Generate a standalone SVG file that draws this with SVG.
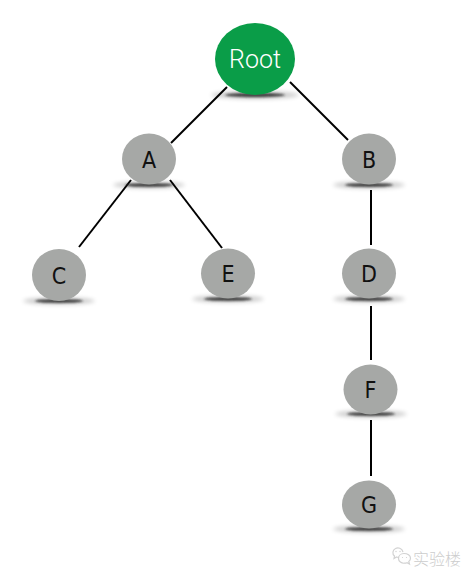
<svg xmlns="http://www.w3.org/2000/svg" width="474" height="579" viewBox="0 0 474 579">
  <defs>
    <filter id="blur" x="-50%" y="-200%" width="200%" height="500%">
      <feGaussianBlur stdDeviation="2.2"/>
    </filter>
    <filter id="blur2" x="-50%" y="-200%" width="200%" height="500%">
      <feGaussianBlur stdDeviation="1"/>
    </filter>
    <style>
      .edge { stroke: #000; stroke-width: 2; fill: none; }
      .node { fill: #a6a8a6; }
      .root { fill: #0a9d48; }
      .shadow-soft { fill: #000; opacity: 0.2; filter: url(#blur); }
      .shadow-dark { fill: #222; opacity: 0.8; filter: url(#blur2); }
      .label { font-family: "DejaVu Sans Condensed", "DejaVu Sans", sans-serif; font-stretch: condensed; font-size: 23px; fill: #111; text-anchor: middle; }
      .rootlabel { font-family: Roboto, "Liberation Sans", sans-serif; font-weight: 300; font-size: 25px; fill: #fff; text-anchor: middle; }
      .wm { font-family: "Noto Sans CJK SC", sans-serif; font-weight: 300; font-size: 16px; fill: #cdcdcd; }
      .wmicon { fill: none; stroke: #d2d2d2; stroke-width: 1.2; }
    </style>
  </defs>
  <rect width="474" height="579" fill="#fff"/>

  <g id="connectors">
    <line class="edge" x1="227" y1="87" x2="171" y2="143"/>
    <line class="edge" x1="290" y1="82" x2="348" y2="140"/>
    <line class="edge" x1="131" y1="180" x2="79" y2="247"/>
    <line class="edge" x1="170" y1="180" x2="222" y2="248"/>
    <line class="edge" x1="371" y1="190" x2="371" y2="245"/>
    <line class="edge" x1="371" y1="306" x2="371" y2="360"/>
    <line class="edge" x1="371" y1="420" x2="371" y2="476"/>
  </g>

  <g id="node-root">
    <ellipse class="shadow-soft" cx="255" cy="95" rx="44" ry="4"/>
    <ellipse class="shadow-dark" cx="255" cy="95" rx="30" ry="2.2"/>
    <ellipse class="root" cx="255" cy="59" rx="40" ry="36"/>
    <text class="rootlabel" x="255" y="68">Root</text>
  </g>

  <g id="node-a">
    <ellipse class="shadow-soft" cx="149" cy="185" rx="36" ry="3.5"/>
    <ellipse class="shadow-dark" cx="149" cy="185" rx="24" ry="2"/>
    <ellipse class="node" cx="149" cy="159" rx="27" ry="25.5"/>
    <text class="label" x="149" y="168">A</text>
  </g>

  <g id="node-b">
    <ellipse class="shadow-soft" cx="369" cy="185" rx="36" ry="3.5"/>
    <ellipse class="shadow-dark" cx="369" cy="185" rx="24" ry="2"/>
    <ellipse class="node" cx="369" cy="159" rx="27" ry="25.5"/>
    <text class="label" x="369" y="168">B</text>
  </g>

  <g id="node-c">
    <ellipse class="shadow-soft" cx="59" cy="301" rx="36" ry="3.5"/>
    <ellipse class="shadow-dark" cx="59" cy="301" rx="24" ry="2"/>
    <ellipse class="node" cx="59" cy="275" rx="27" ry="26"/>
    <text class="label" x="59" y="284">C</text>
  </g>

  <g id="node-e">
    <ellipse class="shadow-soft" cx="228" cy="299" rx="36" ry="3.5"/>
    <ellipse class="shadow-dark" cx="228" cy="299" rx="24" ry="2"/>
    <ellipse class="node" cx="228" cy="273.5" rx="27" ry="25"/>
    <text class="label" x="228" y="282">E</text>
  </g>

  <g id="node-d">
    <ellipse class="shadow-soft" cx="369" cy="299" rx="36" ry="3.5"/>
    <ellipse class="shadow-dark" cx="369" cy="299" rx="24" ry="2"/>
    <ellipse class="node" cx="369" cy="273.5" rx="27" ry="25"/>
    <text class="label" x="369" y="282">D</text>
  </g>

  <g id="node-f">
    <ellipse class="shadow-soft" cx="371" cy="414" rx="36" ry="3.5"/>
    <ellipse class="shadow-dark" cx="371" cy="414" rx="24" ry="2"/>
    <ellipse class="node" cx="370.5" cy="389.5" rx="27" ry="25"/>
    <text class="label" x="370.5" y="398">F</text>
  </g>

  <g id="node-g">
    <ellipse class="shadow-soft" cx="369" cy="529" rx="36" ry="3.5"/>
    <ellipse class="shadow-dark" cx="369" cy="529" rx="24" ry="2"/>
    <ellipse class="node" cx="369" cy="504.5" rx="27" ry="24"/>
    <text class="label" x="369" y="513">G</text>
  </g>

  <g id="watermark">
    <path class="wmicon" d="M 403 552 C 402 548 398 547 395.5 548.5 C 392.5 550 392 554 394.5 556 L 394 558.5 L 396.5 557 C 397.5 557.3 398.5 557.3 399 557.2"/>
    <path class="wmicon" d="M 404 553.5 C 400.5 553.5 398.5 556 398.5 558.5 C 398.5 561.5 401.5 563.5 404.5 563.2 C 405.5 563.2 406.3 563 407 562.7 L 409.5 564 L 408.8 561.5 C 410 560.5 410.5 559.5 410.5 558.3 C 410.5 555.5 407.5 553.5 404 553.5 Z"/>
    <circle cx="396" cy="551.5" r="0.7" fill="#d2d2d2"/>
    <circle cx="400" cy="551.5" r="0.7" fill="#d2d2d2"/>
    <circle cx="402.5" cy="557.5" r="0.6" fill="#d2d2d2"/>
    <circle cx="406.5" cy="557.5" r="0.6" fill="#d2d2d2"/>
    <text class="wm" x="413" y="565">实验楼</text>
  </g>
</svg>
